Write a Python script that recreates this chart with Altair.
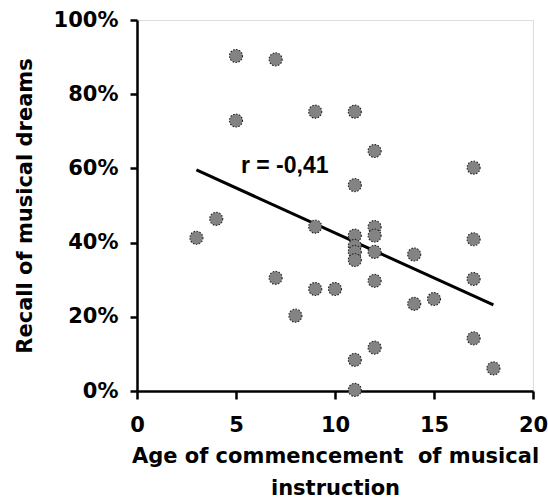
import altair as alt
import pandas as pd

# Scatter data (age of commencement, recall %)
ages = [3, 4, 5, 5, 7, 7, 8, 9, 9, 9, 10,
        11, 11, 11, 11, 11, 11, 11, 11,
        12, 12, 12, 12, 12, 12,
        14, 14, 15, 17, 17, 17, 17, 18]
recall = [41.3, 46.4, 90.3, 72.9, 89.4, 30.5, 20.3, 75.3, 44.3, 27.5, 27.5,
          75.3, 55.5, 41.9, 39.1, 37.5, 35.3, 8.4, 0.3,
          64.7, 44.2, 41.9, 37.5, 29.7, 11.7,
          36.8, 23.5, 24.8, 60.2, 40.9, 30.2, 14.2, 6.1]

# Regression line end points
line_x = [3, 18]
line_y = [59.6, 23.2]

# Annotation
label_text = ["r = -0,41"]
label_x = [5.25]
label_y = [58.8]

y_ticks = [0, 20, 40, 60, 80, 100]
x_ticks = [0, 5, 10, 15, 20]

pts = pd.DataFrame({"age": ages, "recall": recall})
ln = pd.DataFrame({"age": line_x, "recall": line_y})
lab = pd.DataFrame({"age": label_x, "recall": label_y, "text": label_text})

AXFONT = "DejaVu Sans"

xscale = alt.Scale(domain=[0, 20], nice=False, zero=False)
yscale = alt.Scale(domain=[0, 100], nice=False)

xaxis = alt.Axis(
    values=x_ticks, title=["Age of commencement\u00a0 of musical", "instruction"],
    grid=False, domainColor="black", domainWidth=2.5, tickColor="black",
    tickWidth=2.5, tickSize=8, labelFont=AXFONT, labelFontSize=21,
    labelFontWeight="bold", labelColor="black", labelPadding=15,
    titleFont=AXFONT, titleFontSize=21, titleFontWeight="bold",
    titleColor="black", titlePadding=10, titleLineHeight=32,
    labelFlush=False, labelOverlap=False,
)
yaxis = alt.Axis(
    values=y_ticks, title="Recall of musical dreams", labelExpr="datum.value + '%'",
    grid=False, domainColor="black", domainWidth=2.5, tickColor="black",
    tickWidth=2.5, tickSize=7, labelFont=AXFONT, labelFontSize=21,
    labelFontWeight="bold", labelColor="black", labelPadding=12,
    titleFont=AXFONT, titleFontSize=21, titleFontWeight="bold",
    titleColor="black", titlePadding=18, labelFlush=False, labelOverlap=False,
)

points = alt.Chart(pts).mark_point(
    shape="circle", filled=True, size=170, fill="#838383", fillOpacity=1,
    stroke="#222222", strokeWidth=1.1, strokeDash=[1.5, 1.5], opacity=1,
).encode(
    x=alt.X("age:Q", scale=xscale, axis=xaxis),
    y=alt.Y("recall:Q", scale=yscale, axis=yaxis),
)

line = alt.Chart(ln).mark_line(color="black", strokeWidth=3).encode(
    x=alt.X("age:Q", scale=xscale),
    y=alt.Y("recall:Q", scale=yscale),
)

text = alt.Chart(lab).mark_text(
    align="left", baseline="alphabetic", font="Liberation Sans",
    fontSize=23, fontWeight="bold", color="black",
).encode(
    x=alt.X("age:Q", scale=xscale),
    y=alt.Y("recall:Q", scale=yscale),
    text="text:N",
)

chart = alt.layer(line, points, text).properties(
    width=396, height=371,
    autosize=alt.AutoSizeParams(type="none"),
    padding={"left": 137, "top": 20, "right": 15, "bottom": 111},
).configure_view(stroke=None).configure(background="white")

chart.save("out.html", embed_options={"renderer": "svg", "actions": False})
